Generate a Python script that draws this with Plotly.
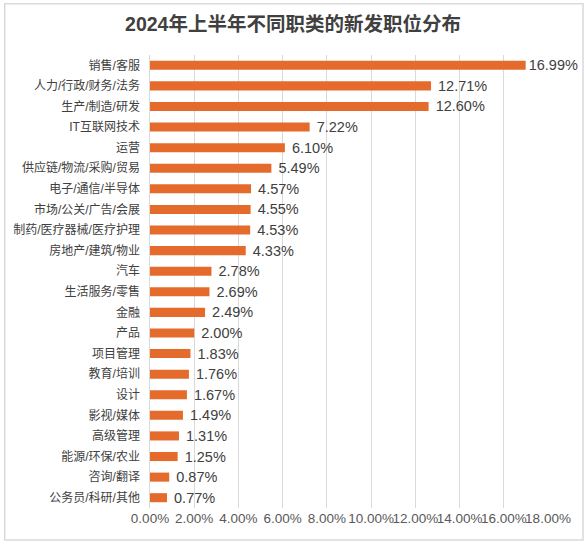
import plotly.graph_objects as go

categories = ["销售/客服", "人力/行政/财务/法务", "生产/制造/研发", "IT互联网技术", "运营",
              "供应链/物流/采购/贸易", "电子/通信/半导体", "市场/公关/广告/会展",
              "制药/医疗器械/医疗护理", "房地产/建筑/物业", "汽车", "生活服务/零售", "金融",
              "产品", "项目管理", "教育/培训", "设计", "影视/媒体", "高级管理",
              "能源/环保/农业", "咨询/翻译", "公务员/科研/其他"]
values = [16.99, 12.71, 12.60, 7.22, 6.10, 5.49, 4.57, 4.55, 4.53, 4.33, 2.78, 2.69, 2.49,
          2.00, 1.83, 1.76, 1.67, 1.49, 1.31, 1.25, 0.87, 0.77]
tick_vals = [0, 2, 4, 6, 8, 10, 12, 14, 16, 18]
tick_text = [f"{v:.2f}%" for v in tick_vals]
title = "2024年上半年不同职类的新发职位分布"

FONT = "Liberation Sans, Arial, Noto Sans CJK SC, sans-serif"
vmax = max(values)
labels = [("" if v == vmax else "\u00a0") + f"{v:.2f}%" for v in values]

fig = go.Figure(go.Bar(
    x=values, y=categories, orientation="h",
    marker=dict(color="#E46B2C", line=dict(width=0)),
    text=labels,
    textposition="outside", constraintext="none", cliponaxis=False,
    textfont=dict(size=14.5, color="#404040", family=FONT),
    hoverinfo="skip",
))

fig.update_layout(
    width=586, height=547,
    margin=dict(l=150, r=38, t=55, b=39, autoexpand=False),
    paper_bgcolor="white", plot_bgcolor="white",
    bargap=0.56,
    showlegend=False,
    title=dict(text=f"<b>{title}</b>", x=0.5, xanchor="center", y=0.955, yanchor="middle",
               font=dict(size=19.5, color="#404040", family=FONT)),
    font=dict(family=FONT, color="#404040"),
    xaxis=dict(range=[0, 18], tickvals=tick_vals, ticktext=tick_text, tickangle=0,
               showgrid=True, gridcolor="#D9D9D9", gridwidth=1, zeroline=False,
               showline=False, ticks="", ticklen=0, automargin=False,
               tickfont=dict(size=13.5, color="#595959", family=FONT), fixedrange=True),
    yaxis=dict(autorange="reversed", showgrid=False, zeroline=False, automargin=False,
               showline=True, linecolor="#D9D9D9", linewidth=1, ticks="", ticklen=0,
               tickfont=dict(size=12, color="#404040", family=FONT), ticksuffix="  "),
    shapes=[dict(type="rect", xref="paper", yref="paper",
                 x0=-0.365, x1=1.088, y0=-0.0706, y1=1.113,
                 line=dict(color="#D9D9D9", width=1.5), fillcolor="rgba(0,0,0,0)", layer="below")],
)

fig.write_html("out.html", config={"displayModeBar": False},
               post_script="document.body.style.margin='0';")
